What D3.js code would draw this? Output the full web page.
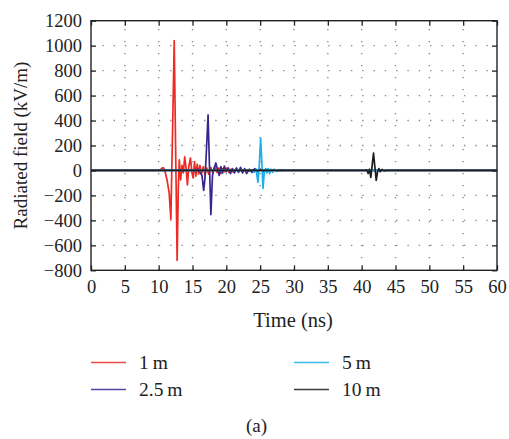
<!DOCTYPE html>
<html>
<head>
<meta charset="utf-8">
<script src="https://cdn.jsdelivr.net/npm/d3@7"></script>
<style>
  body { margin: 0; background: #fff; }
  svg { display: block; font-family: "Liberation Serif", "DejaVu Serif", serif; }
</style>
</head>
<body>
<svg id="chart" width="509" height="439"></svg>
<script>
// Axis ticks
const xTicks = [0, 5, 10, 15, 20, 25, 30, 35, 40, 45, 50, 55, 60];
const yTicks = [-800, -600, -400, -200, 0, 200, 400, 600, 800, 1000, 1200];

// Series (time in ns, field in kV/m)
const names = ["1\u2009m", "2.5\u2009m", "5\u2009m", "10\u2009m"];
const colors = ["#ee2a24", "#35278e", "#18b1ea", "#1e1e1e"];

const t1m = [0, 10.2, 10.45, 10.75, 11.0, 11.25, 11.55, 11.8, 12.05, 12.3, 12.5, 12.73, 12.9, 13.05, 13.25, 13.45, 13.65, 13.85, 14.05, 14.25, 14.45, 14.7, 14.9, 15.1, 15.3, 15.5, 15.7, 15.9, 16.1, 16.35, 16.6, 16.85, 17.1, 17.4, 17.7, 18.0, 18.3, 18.6, 18.9, 19.2, 19.5, 19.8, 20.1, 20.4, 20.7, 21.0, 21.4, 21.8, 22.2, 22.6, 23.0, 23.5, 24.0, 60];
const v1m = [0, 0, 18, 20, -20, -80, -180, -390, 300, 1040, 200, -720, -150, 85, -75, 40, -20, 110, 20, -115, 30, 100, -10, -60, 70, -45, 50, -30, 40, -25, 30, -35, 20, -30, 25, -20, 30, -15, 20, -25, 15, -10, 20, -15, 10, -12, 10, -8, 6, -6, 5, -3, 0, 0];

const t25m = [0, 15.5, 15.8, 16.1, 16.4, 16.65, 16.85, 17.05, 17.3, 17.5, 17.72, 17.95, 18.2, 18.45, 18.7, 18.95, 19.2, 19.45, 19.7, 20.0, 20.3, 20.6, 20.9, 21.2, 21.5, 21.8, 22.1, 22.4, 22.7, 23.0, 23.4, 23.8, 24.2, 24.6, 25.0, 25.5, 26.0, 26.5, 27.0, 27.5, 28.0, 29, 60];
const v25m = [0, 0, 10, -15, -40, -160, -60, 150, 445, 50, -355, -40, 20, 60, 5, -40, 30, -20, 35, -10, 20, -25, 15, -20, 20, -15, 25, -20, 15, -25, 10, -15, 15, -10, 10, -12, 8, -6, 6, -4, 3, 0, 0];

const t5m = [0, 23.5, 23.8, 24.1, 24.4, 24.67, 24.85, 25.07, 25.25, 25.42, 25.6, 25.8, 26.0, 26.2, 26.4, 26.6, 26.85, 27.1, 27.4, 27.7, 28.0, 28.5, 29.0, 60];
const v5m = [0, 0, 5, -15, 10, -95, 20, 258, 60, -145, -20, 15, -20, 15, -25, 10, -15, 10, -8, 6, -4, 2, 0, 0];

const t10m = [0, 40.5, 40.75, 40.95, 41.15, 41.35, 41.55, 41.75, 41.95, 42.15, 42.35, 42.55, 42.75, 43.0, 43.3, 43.6, 60];
const v10m = [0, 0, 5, -25, 10, -55, 40, 140, 30, -80, -10, 15, -10, 8, -3, 0, 0];

const seriesT = [t1m, t25m, t5m, t10m];
const seriesV = [v1m, v25m, v5m, v10m];

const margin = { top: 20.7, left: 91, right: 12, bottom: 168.7 };
const W = 509, H = 439;
const w = W - margin.left - margin.right;
const h = H - margin.top - margin.bottom;

const svg = d3.select("#chart");
const g = svg.append("g").attr("transform", `translate(${margin.left},${margin.top})`);

const x = d3.scaleLinear().domain([0, 60]).range([0, w]);
const y = d3.scaleLinear().domain([-800, 1200]).range([h, 0]);

// dotted grid
g.append("g").selectAll("line.gx")
  .data(xTicks.slice(1, -1))
  .join("line")
  .attr("x1", d => x(d)).attr("x2", d => x(d))
  .attr("y1", h).attr("y2", 0)
  .attr("stroke", "#8a8a8a").attr("stroke-width", 1.4)
  .attr("stroke-dasharray", "1.4,10.6");
g.append("g").selectAll("line.gy")
  .data(yTicks.slice(1, -1))
  .join("line")
  .attr("x1", 0).attr("x2", w)
  .attr("y1", d => y(d)).attr("y2", d => y(d))
  .attr("stroke", "#8a8a8a").attr("stroke-width", 1.4)
  .attr("stroke-dasharray", "1.4,9.9");

// traces
g.append("clipPath").attr("id", "clip")
  .append("rect").attr("width", w).attr("height", h);

const line = d3.line().x(d => x(d[0])).y(d => y(d[1]));
const traces = g.append("g").attr("clip-path", "url(#clip)");
seriesT.forEach((ts, i) => {
  const pts = ts.map((t, k) => [t, seriesV[i][k]]);
  traces.append("path")
    .datum(pts)
    .attr("fill", "none")
    .attr("stroke", colors[i])
    .attr("stroke-width", 1.7)
    .attr("stroke-linejoin", "round")
    .attr("d", line);
});

// axes, ticks point inward on all four sides
const tickLen = 5;
g.append("g").attr("transform", `translate(0,${h})`)
  .call(d3.axisBottom(x).tickValues(xTicks).tickSizeInner(-tickLen).tickSizeOuter(0).tickPadding(10))
  .call(a => a.select(".domain").remove());
g.append("g")
  .call(d3.axisTop(x).tickValues(xTicks).tickSizeInner(-tickLen).tickSizeOuter(0).tickFormat(""))
  .call(a => a.select(".domain").remove());
g.append("g")
  .call(d3.axisLeft(y).tickValues(yTicks).tickSizeInner(-tickLen).tickSizeOuter(0).tickPadding(9)
    .tickFormat(d => d < 0 ? "\u2212" + Math.abs(d) : d))
  .call(a => a.select(".domain").remove());
g.append("g").attr("transform", `translate(${w},0)`)
  .call(d3.axisRight(y).tickValues(yTicks).tickSizeInner(-tickLen).tickSizeOuter(0).tickFormat(""))
  .call(a => a.select(".domain").remove());

g.selectAll(".tick line").attr("stroke", "#222").attr("stroke-width", 1.3);
g.selectAll(".tick text").attr("font-size", 18.5).attr("fill", "#222")
  .attr("font-family", "Liberation Serif, serif");

g.append("rect")
  .attr("width", w).attr("height", h)
  .attr("fill", "none").attr("stroke", "#222").attr("stroke-width", 1.4);

// axis titles
svg.append("text")
  .attr("x", margin.left + w / 2 - 1).attr("y", 326.5)
  .attr("text-anchor", "middle").attr("font-size", 20.5).attr("fill", "#222")
  .text("Time (ns)");
svg.append("text")
  .attr("transform", `translate(26.5,${margin.top + h / 2}) rotate(-90)`)
  .attr("text-anchor", "middle").attr("font-size", 19).attr("fill", "#222")
  .text("Radiated field (kV/m)");

// legend: two columns
const legend = svg.append("g");
names.forEach((n, i) => {
  const col = i < 2 ? 0 : 1;
  const row = i % 2;
  const lx = 91 + col * 203;
  const ly = 362.5 + row * 27;
  legend.append("line")
    .attr("x1", lx).attr("x2", lx + 35)
    .attr("y1", ly).attr("y2", ly)
    .attr("stroke", colors[i]).attr("stroke-width", 1.6).attr("opacity", 0.85);
  legend.append("text")
    .attr("x", lx + 48).attr("y", ly + 6)
    .attr("font-size", 19.5).attr("fill", "#222")
    .text(n);
});

svg.append("text")
  .attr("x", 256.5).attr("y", 432)
  .attr("text-anchor", "middle").attr("font-size", 19).attr("fill", "#222")
  .text("(a)");
</script>
</body>
</html>
